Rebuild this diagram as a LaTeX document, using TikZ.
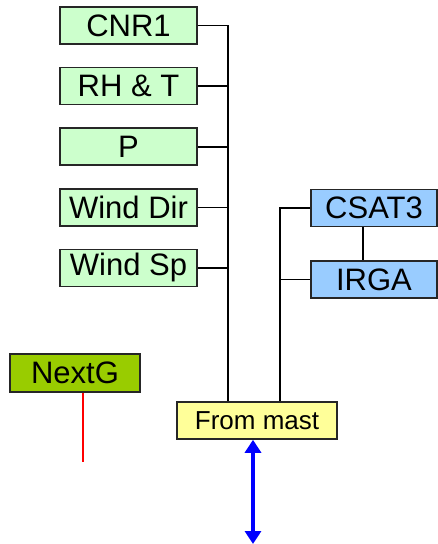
\documentclass[tikz,border=0pt]{standalone}
\usepackage{fontspec}
\setmainfont{Liberation Sans}
\usetikzlibrary{arrows.meta, positioning}
\definecolor{sensgreen}{HTML}{CCFFCC}
\definecolor{sensblue}{HTML}{99CCFF}
\definecolor{nextgreen}{HTML}{99CC00}
\definecolor{mastyellow}{HTML}{FFFF99}
\tikzset{
  every node/.style={font=\fontsize{31}{33}\selectfont},
  sensor/.style={
    draw=black!85, line width=1.6pt, fill=sensgreen,
    minimum width=137pt, minimum height=37pt, inner sep=0pt
  },
  flux/.style={sensor, fill=sensblue, minimum width=126pt},
  logger/.style={sensor, fill=nextgreen, minimum width=130pt, minimum height=38pt},
  mast/.style={sensor, fill=mastyellow, minimum width=160pt,
    font=\fontsize{26}{28}\selectfont},
  wire/.style={draw=black, line width=1.6pt},
  redwire/.style={draw=red, line width=1.6pt},
  link/.style={{Triangle[length=13pt,width=16pt]}-{Triangle[length=13pt,width=16pt]},
    draw=blue, line width=3.2pt},
}
\begin{document}
\begin{tikzpicture}[x=1pt, y=-1pt]
        \useasboundingbox (0,0) rectangle (437,544);
        % mast sensors
        \node[sensor] (cnr) at (128.5,25.5) {CNR1};
        \node[sensor, below=22pt of cnr] (rht) {RH \& T};
        \node[sensor, below=22pt of rht] (pres) {P};
        \node[sensor, below=22pt of pres] (wdir) {Wind Dir};
        \node[sensor, below=22pt of wdir] (wsp) {Wind Sp};
        % eddy covariance
        \node[flux] (csat) at (374,208) {CSAT3};
        \node[flux] (irga) at (374,279.5) {IRGA};
        % boxes below
        \node[logger] (nextg) at (75,373) {NextG};
        \node[mast] (mast) at (257,420.5) {From mast};
        \coordinate (bus) at (228,0);
        \coordinate (fluxbus) at (280,0);
        \coordinate (tap) at (363,0);
        \coordinate (nextgend) at (83,462);
        \coordinate (down) at (253,544);
        % wires
        \draw[wire] (cnr.east) -- (cnr.east -| bus) -- (mast.north -| bus);
        \foreach \s in {rht, pres, wdir, wsp}
          \draw[wire] (\s.east) -- (\s.east -| bus);
        \draw[wire] (csat.west) -- (csat.west -| fluxbus) -- (mast.north -| fluxbus);
        \draw[wire] (irga.west) -- (irga.west -| fluxbus);
        \draw[wire] (csat.south -| tap) -- (irga.north -| tap);
        \draw[redwire] (nextg.south -| nextgend) -- (nextgend);
        \draw[link] (mast.south -| down) -- (down);
\end{tikzpicture}
\end{document}
